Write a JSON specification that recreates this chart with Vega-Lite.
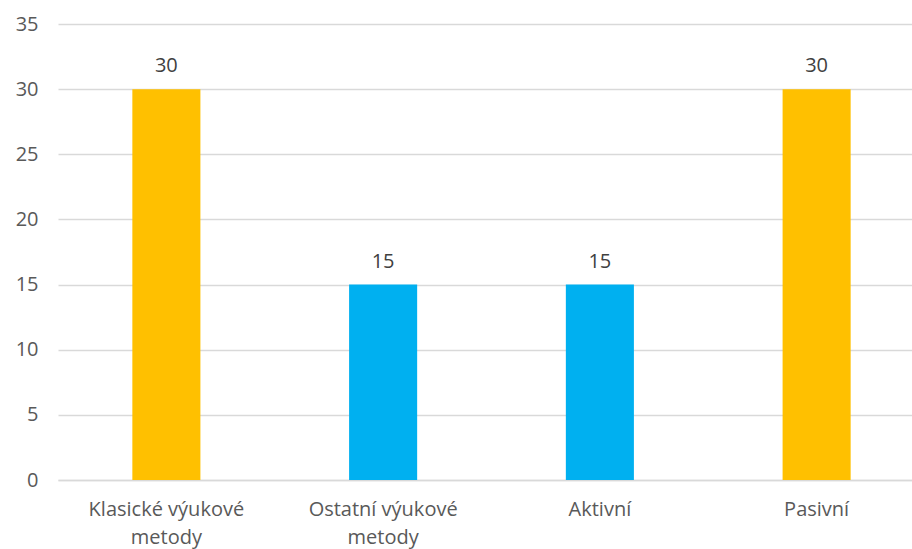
{
  "$schema": "https://vega.github.io/schema/vega-lite/v6.json",
  "autosize": "none",
  "padding": {"left": 58, "top": 24, "right": 0, "bottom": 69},
  "width": 854,
  "height": 456,
  "background": "white",
  "config": {
    "font": "Open Sans",
    "view": {"stroke": null}
  },
  "data": {
    "values": [
      {"kategorie": "Klasické výukové|metody", "pocet": 30, "skupina": "A"},
      {"kategorie": "Ostatní výukové|metody", "pocet": 15, "skupina": "B"},
      {"kategorie": "Aktivní", "pocet": 15, "skupina": "B"},
      {"kategorie": "Pasivní", "pocet": 30, "skupina": "A"}
    ]
  },
  "encoding": {
    "x": {
      "field": "kategorie",
      "type": "nominal",
      "sort": null,
      "scale": {"paddingInner": 0.686, "paddingOuter": 0.343, "range": [0, 867]},
      "axis": {
        "title": null,
        "labelAngle": 0,
        "labelExpr": "split(datum.label, '|')",
        "labelFont": "Open Sans",
        "labelFontSize": 20,
        "labelColor": "#595959",
        "labelPadding": 19,
        "labelLineHeight": 28,
        "ticks": false,
        "domainColor": "#d9d9d9",
        "domainWidth": 1.5
      }
    },
    "y": {
      "field": "pocet",
      "type": "quantitative",
      "scale": {"domain": [0, 35]},
      "axis": {
        "title": null,
        "values": [0, 5, 10, 15, 20, 25, 30, 35],
        "labelFont": "Open Sans",
        "labelFontSize": 20,
        "labelColor": "#595959",
        "labelPadding": 20,
        "ticks": false,
        "domain": false,
        "gridColor": "#d9d9d9",
        "gridWidth": 1.5
      }
    }
  },
  "layer": [
    {
      "mark": {"type": "bar"},
      "encoding": {
        "color": {
          "field": "skupina",
          "type": "nominal",
          "scale": {"domain": ["A", "B"], "range": ["#FFC000", "#00B0F0"]},
          "legend": null
        }
      }
    },
    {
      "mark": {"type": "text", "baseline": "bottom", "dy": -13, "fontSize": 20, "font": "Open Sans", "color": "#404040"},
      "encoding": {
        "text": {"field": "pocet", "type": "quantitative"}
      }
    }
  ]
}
